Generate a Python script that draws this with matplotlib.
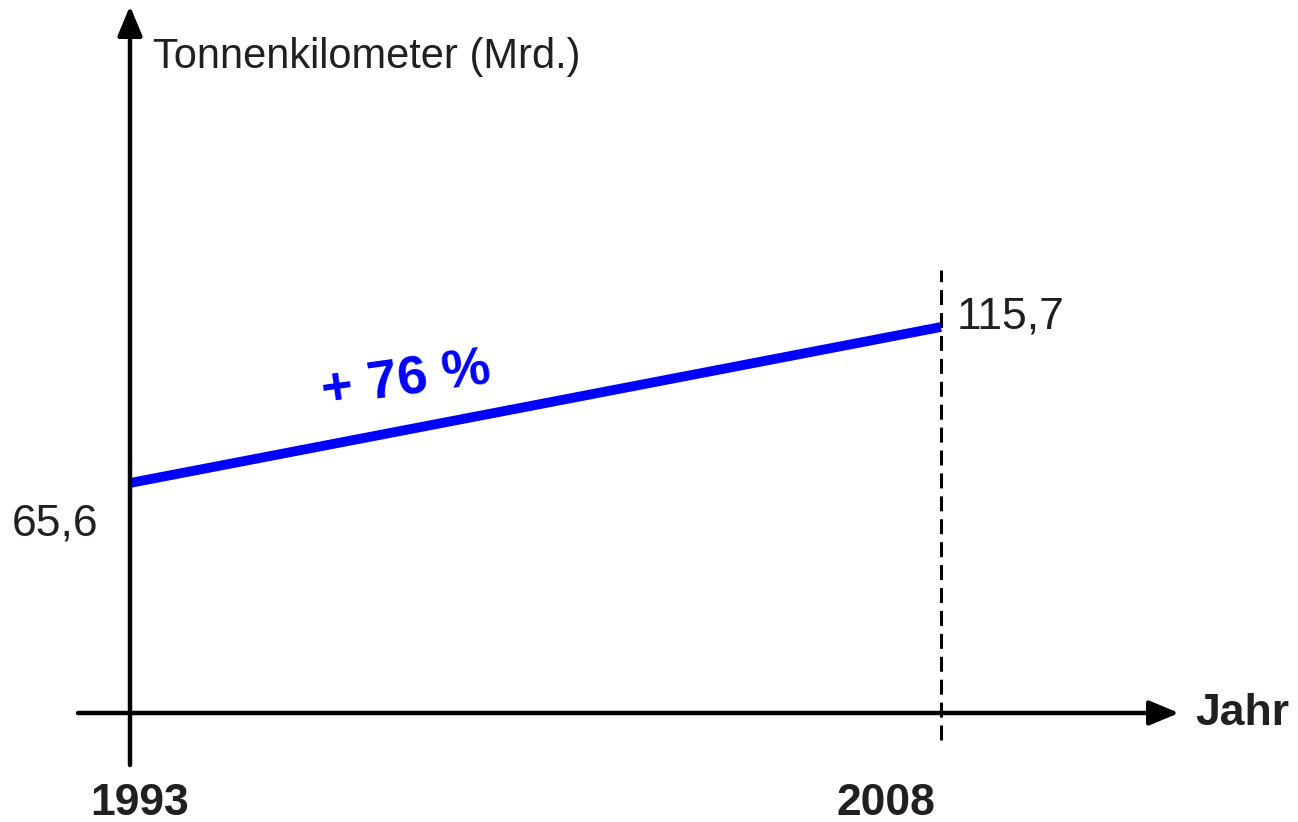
"""
Tonnenkilometer 1993 -> 2008, schematic growth chart.
"""

import matplotlib.pyplot as plt
from matplotlib.transforms import blended_transform_factory

plt.rcParams["font.family"] = ["Liberation Sans", "DejaVu Sans"]

# ----------------------------
# Data
# ----------------------------
years = [1993, 2008]
tkm = [65.6, 115.7]
year_labels = ["1993", "2008"]
value_labels = ["65,6", "115,7"]
growth_label = "+ 76 %"
y_title = "Tonnenkilometer (Mrd.)"
x_title = "Jahr"

W, H = 1298, 822
TXT = "#231f20"
BLUE = "#0000ff"


def fx(x):
    return x / W


def fy(y):
    return 1 - y / H


# ----------------------------
# Figure / scale (1993 at x=130 px, 2008 at x=941 px)
# ----------------------------
fig = plt.figure(figsize=(W / 100, H / 100), dpi=100)
ax = fig.add_axes([0, 0, 1, 1])
ax.axis("off")

px_year = (941 - 130) / 15
px_unit = (483 - 327) / (tkm[1] - tkm[0])
ax.set_xlim(years[0] - 130 / px_year, years[0] + (W - 130) / px_year)
ax.set_ylim(tkm[0] - (H - 483) / px_unit, tkm[0] + 483 / px_unit)

# axes with arrows
tr_v = blended_transform_factory(ax.transData, ax.transAxes)
tr_h = ax.transAxes
arrow = dict(arrowstyle="-|>,head_length=18,head_width=7.5",
             mutation_scale=1, lw=3.2, color="black",
             shrinkA=0, shrinkB=0)
ax.annotate("", xy=(years[0], fy(6)), xytext=(years[0], fy(765)),
            xycoords=tr_v, textcoords=tr_v, arrowprops=arrow)
ax.annotate("", xy=(fx(1179), fy(713)), xytext=(fx(78), fy(713)),
            xycoords=tr_h, textcoords=tr_h, arrowprops=arrow)

# dashed marker at the end year
ax.plot([years[1], years[1]], [fy(740), fy(270)], transform=tr_v,
        color="black", lw=2.2, dashes=(4.9, 2.6))

# growth line
ax.plot(years, tkm, color=BLUE, lw=7, solid_capstyle="butt")

# ----------------------------
# Text
# ----------------------------
fig.text(fx(153), fy(68), y_title, fontsize=30, color=TXT, va="baseline")
fig.text(fx(12), fy(535), value_labels[0], fontsize=32, color=TXT,
         va="baseline")
fig.text(fx(957), fy(328), value_labels[1], fontsize=32, color=TXT,
         va="baseline")
year_x = [140, 886]
for xp, lab in zip(year_x, year_labels):
    fig.text(fx(xp), fy(815), lab, fontsize=32, fontweight="bold",
             color=TXT, ha="center", va="baseline")
fig.text(fx(1195), fy(725), x_title, fontsize=32, fontweight="bold",
         color=TXT, va="baseline")

fig.text(fx(406), fy(381), growth_label, fontsize=39, fontweight="bold",
         color=BLUE, ha="center", va="center", rotation=8,
         rotation_mode="anchor")

plt.savefig("out.png", dpi=100)
